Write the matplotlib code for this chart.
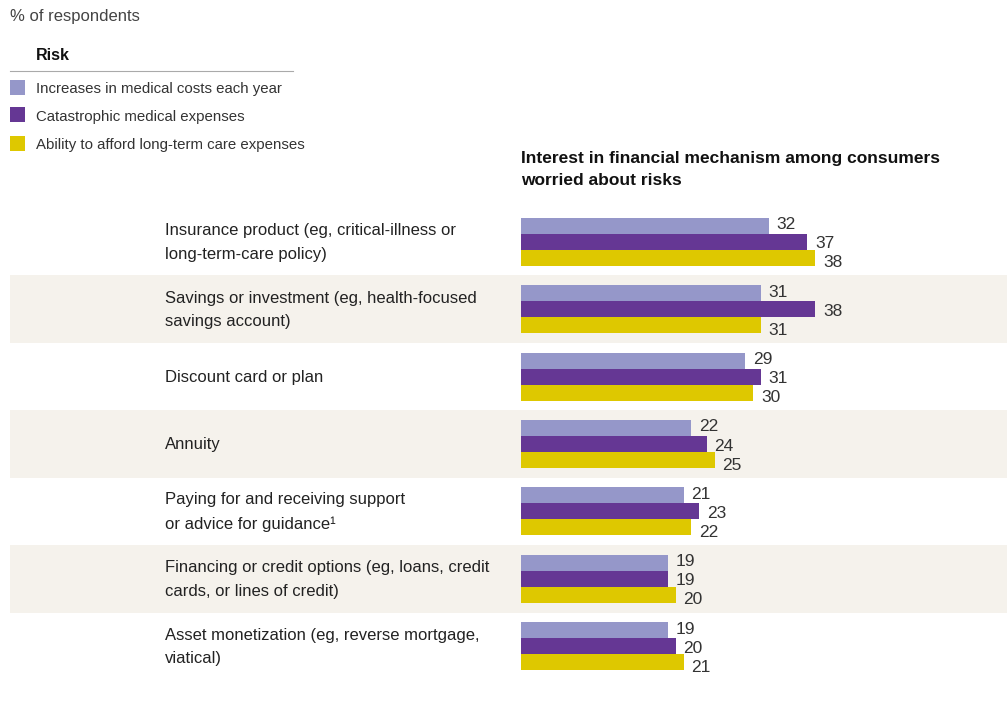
import matplotlib.pyplot as plt
from matplotlib.patches import Rectangle
from matplotlib import font_manager

names = {f.name for f in font_manager.fontManager.ttflist}
narrow = 'Liberation Sans Narrow' if 'Liberation Sans Narrow' in names else 'Liberation Sans'
plt.rcParams['font.family'] = [narrow, 'DejaVu Sans']

categories = [
    "Insurance product (eg, critical-illness or\nlong-term-care policy)",
    "Savings or investment (eg, health-focused\nsavings account)",
    "Discount card or plan",
    "Annuity",
    "Paying for and receiving support\nor advice for guidance\u00b9",
    "Financing or credit options (eg, loans, credit\ncards, or lines of credit)",
    "Asset monetization (eg, reverse mortgage,\nviatical)",
]
series_names = [
    "Increases in medical costs each year",
    "Catastrophic medical expenses",
    "Ability to afford long-term care expenses",
]
medical_costs = [32, 31, 29, 22, 21, 19, 19]
catastrophic = [37, 38, 31, 24, 23, 19, 20]
long_term_care = [38, 31, 30, 25, 22, 20, 21]
colors = ['#9597c9', '#653794', '#dec800']

W, H = 1007, 702
fig = plt.figure(figsize=(W / 100, H / 100), dpi=100)

# axes spans from x=10 to right edge, rows from y=208 to 680 (pixels)
left_px, bar0_px, scale = 10, 521, 7.74
row_px = 67.4
ax = fig.add_axes([left_px / W, 22 / H, (W - left_px) / W, 472 / H])
ax.set_xlim(-(bar0_px - left_px) / scale, (W - bar0_px) / scale)
n = len(categories)
ax.set_ylim(n - 0.5, -0.5)
ax.axis('off')

# alternating bands
for i in range(n):
    if i % 2 == 1:
        ax.axhspan(i - 0.5, i + 0.5, color='#f5f2ec', lw=0, zorder=0)

bh = 16 / row_px
label_shift = [-1, 2, 5]  # px, labels stagger downward
for j, vals in enumerate([medical_costs, catastrophic, long_term_care]):
    for i, v in enumerate(vals):
        y = i + (j - 1) * bh
        ax.barh(y, v, height=bh, color=colors[j], lw=0, zorder=2)
        ax.text(v + 1.0, y + label_shift[j] / row_px, str(v), va='center', ha='left',
                fontsize=12.5, color='#333333', zorder=3)

# category labels
for i, c in enumerate(categories):
    ax.text(-(bar0_px - 165) / scale, i + 0.01, c, va='center', ha='left',
            fontsize=12, color='#222222', linespacing=1.7)

# title
fig.text(521 / W, 1 - 151 / H, "Interest in financial mechanism among consumers\nworried about risks",
         fontsize=12.5, fontweight='bold', color='#111111', va='top', ha='left',
         linespacing=1.55)

# legend block
fig.text(10 / W, 1 - 16 / H, "% of respondents", fontsize=12, color='#444444',
         va='center', ha='left')
fig.text(36 / W, 1 - 56 / H, "Risk", fontsize=11.5, fontweight='bold', color='#111111',
         va='center', ha='left')
fig.add_artist(plt.Line2D([10 / W, 293 / W], [1 - 71 / H, 1 - 71 / H], color='#aaaaaa', lw=0.8))
for k, (name, col) in enumerate(zip(series_names, colors)):
    yc = [88, 115, 144][k]
    fig.add_artist(Rectangle((10 / W, 1 - (yc + 7) / H), 15 / W, 15 / H,
                             color=col, lw=0, transform=fig.transFigure))
    fig.text(36 / W, 1 - (yc + 1.5) / H, name, fontsize=10.8, color='#333333',
             va='center', ha='left')

fig.savefig('out.png', dpi=100, facecolor='white')
